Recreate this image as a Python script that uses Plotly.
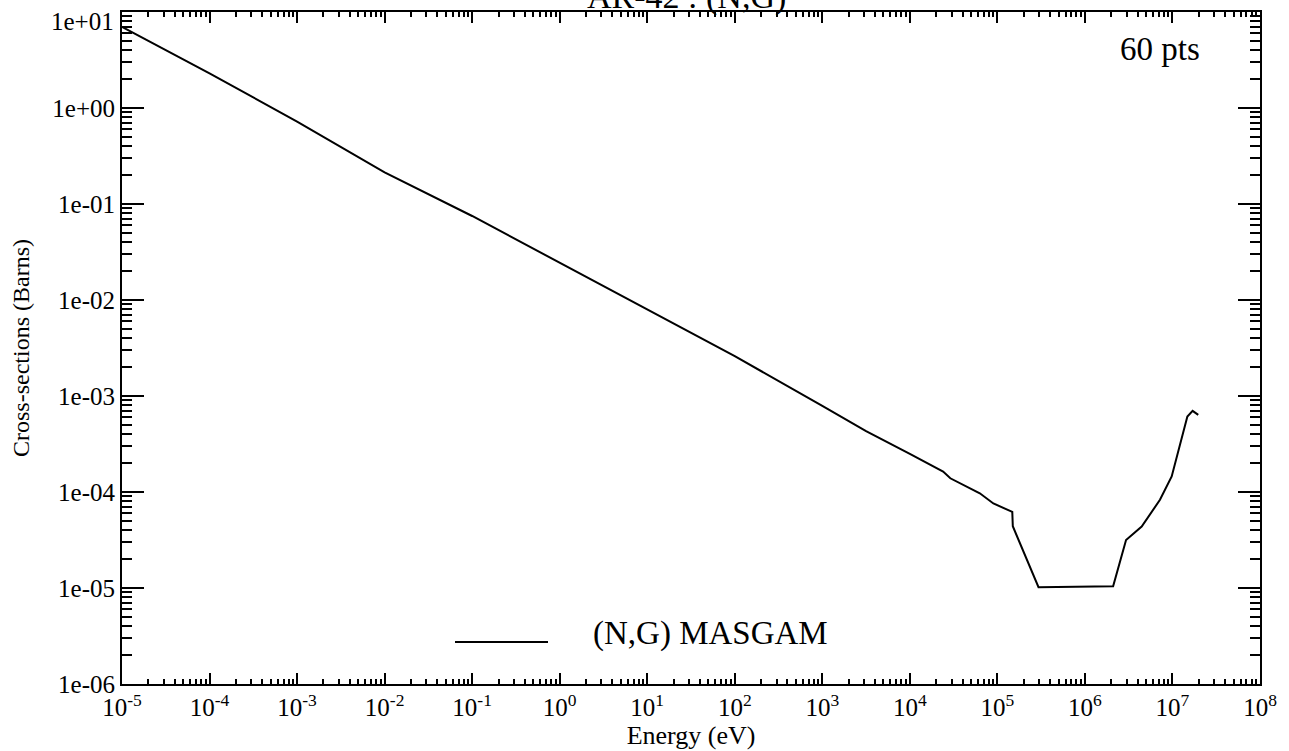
import plotly.graph_objects as go

# ---- data ----
energy_eV = [1e-5, 1e-4, 1e-3, 1e-2, 1e-1, 1.0, 10.0, 100.0, 1000.0, 3162.0,
             1.0e4, 2.4e4, 2.9e4, 3.2e4, 6.3e4, 9.0e4, 1.48e5, 1.50e5, 2.95e5,
             2.1e6, 2.95e6, 4.45e6, 7.2e6, 9.8e6, 1.22e7, 1.48e7, 1.70e7, 1.97e7]
xs_barns = [7.0, 2.3, 0.72, 0.214, 0.075, 0.0245, 0.0079, 0.0026, 7.9e-4, 4.3e-4,
            2.5e-4, 1.63e-4, 1.39e-4, 1.33e-4, 9.7e-5, 7.6e-5, 6.2e-5, 4.4e-5, 1.02e-5,
            1.04e-5, 3.16e-5, 4.36e-5, 8.3e-5, 1.45e-4, 3.2e-4, 6.1e-4, 7.0e-4, 6.35e-4]

x_tickvals = [10.0 ** k for k in range(-5, 9)]
x_ticktext = ["10<sup>%d</sup>" % k for k in range(-5, 9)]
y_tickvals = [10.0 ** k for k in range(-6, 2)]
y_ticktext = ["1e-06", "1e-05", "1e-04", "1e-03", "1e-02", "1e-01", "1e+00", ""]
y_top_label = "1e+01"

title_text = "AR-42 : (N,G)"
legend_text = "(N,G) MASGAM"
points_text = "60 pts"
x_title = "Energy (eV)"
y_title = "Cross-sections (Barns)"

FONT = "Liberation Serif"

x_minor = [m * 10.0 ** k for k in range(-5, 8) for m in range(2, 10)]
y_minor = [m * 10.0 ** k for k in range(-6, 1) for m in range(2, 10)]

fig = go.Figure()
fig.add_trace(go.Scatter(x=energy_eV, y=xs_barns, mode="lines",
                         line=dict(color="black", width=2), showlegend=False,
                         name=legend_text))

axis_common = dict(type="log", showgrid=False, zeroline=False, showline=True,
                   linecolor="black", linewidth=2, mirror="allticks",
                   ticks="inside", tickcolor="black", tickwidth=1.5,
                   tickmode="array", automargin=False)

fig.update_xaxes(**axis_common, range=[-5, 8], tickvals=x_tickvals, ticktext=x_ticktext,
                 ticklen=11, tickfont=dict(family=FONT, size=25, color="black"),
                 ticklabeloverflow="allow",
                 minor=dict(tickvals=x_minor, ticks="inside", ticklen=5,
                            tickcolor="black", tickwidth=1.5, showgrid=False),
                 title=dict(text=x_title, font=dict(family=FONT, size=26, color="black"),
                            standoff=0))
fig.update_yaxes(**axis_common, range=[-6, 1], tickvals=y_tickvals, ticktext=y_ticktext,
                 ticklen=22, tickfont=dict(family=FONT, size=25, color="black"),
                 minor=dict(tickvals=y_minor, ticks="inside", ticklen=10,
                            tickcolor="black", tickwidth=1.5, showgrid=False),
                 title=dict(text=y_title, font=dict(family=FONT, size=24, color="black"),
                            standoff=16))

L, R, T, B = 122, 29, 12, 67
W, H = 1289, 751
pw, ph = W - L - R, H - T - B

def px_x(px):
    return (px - L) / pw

def px_y(py):
    return (H - B - py) / ph

fig.add_annotation(text=y_top_label, xref="paper", yref="paper", x=px_x(116), y=px_y(22),
                   xanchor="right", yanchor="middle", showarrow=False,
                   font=dict(family=FONT, size=25, color="black"))
fig.add_annotation(text=title_text, xref="paper", yref="paper", x=px_x(686), y=px_y(-3),
                   xanchor="center", yanchor="middle", showarrow=False,
                   font=dict(family=FONT, size=34, color="black"))
fig.add_annotation(text=points_text, xref="paper", yref="paper", x=px_x(1160), y=px_y(49),
                   xanchor="center", yanchor="middle", showarrow=False,
                   font=dict(family=FONT, size=33, color="black"))
fig.add_annotation(text=legend_text, xref="paper", yref="paper", x=px_x(591), y=px_y(633),
                   xanchor="left", yanchor="middle", showarrow=False,
                   font=dict(family=FONT, size=33, color="black"))
fig.add_shape(type="line", xref="paper", yref="paper", x0=px_x(455), x1=px_x(548),
              y0=px_y(642), y1=px_y(642), line=dict(color="black", width=2))

fig.update_layout(width=W, height=H, margin=dict(l=L, r=R, t=T, b=B, autoexpand=False),
                  paper_bgcolor="white", plot_bgcolor="white",
                  font=dict(family=FONT, color="black"))

fig.write_html("out.html", config={"displayModeBar": False},
               post_script="document.body.style.margin='0';document.body.style.overflow='hidden';")
